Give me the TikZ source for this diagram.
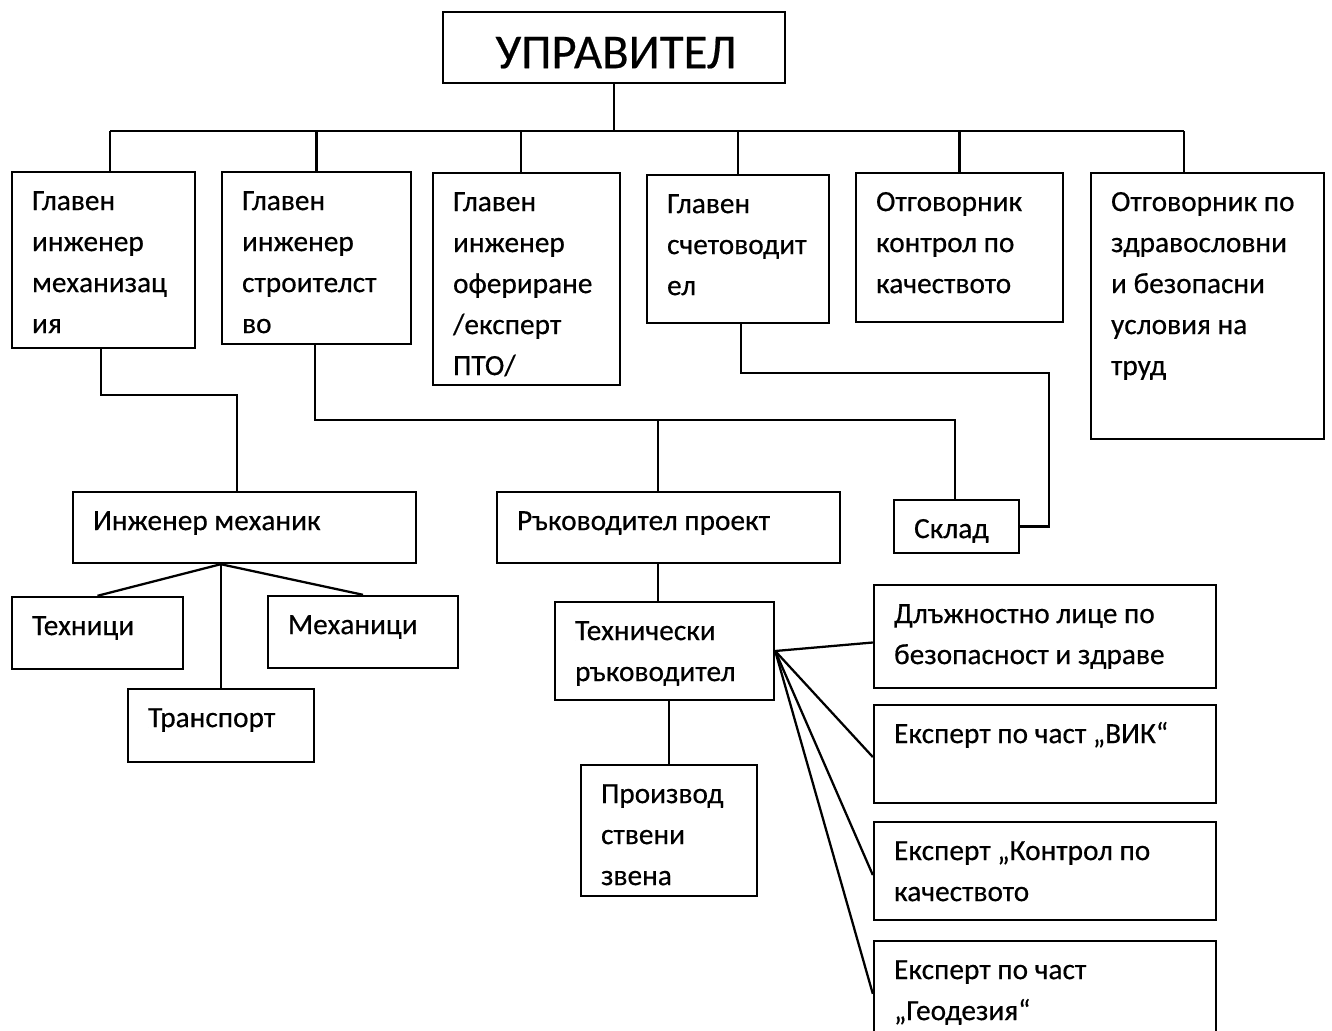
\documentclass[tikz,border=0pt]{standalone}
\usepackage{fontspec}
\setmainfont{Carlito}[FakeBold=0.4]
\usetikzlibrary{fit,calc}
\tikzset{
  box/.style={draw, line width=1.8pt, inner sep=0pt},
  lbl/.style={anchor=north west, inner sep=0pt, align=left, font=\fontsize{22}{30.75}\selectfont},
  conn/.style={line width=1.7pt, line join=miter}
}
\newcommand\obox[6]{%
  \node[box, fit={(#2,#3) (#4,#5)}] (#1) {};
  \node[lbl] (#1t) at ($(#1.north west)+(21,11)$) {\rule{0pt}{21pt}#6};
}
\begin{document}
\begin{tikzpicture}[x=0.75pt,y=-0.75pt]
\useasboundingbox (0,0) rectangle (1332,1031);
\fill[white] (0,0) rectangle (1332,1031);
\clip (0,0) rectangle (1332,1031);

% manager
\node[box, fit={(443,12) (785,83)}] (mgr) {};
\node[anchor=base, inner sep=0pt, font=\fontsize{36.5}{40}\selectfont] (mgrt) at ($(mgr.south)+(2,-16)$) {УПРАВИТЕЛ};

% first level
\obox{b1}{12}{172}{195}{348}{Главен\\инженер\\механизац\\ия}
\obox{b2}{222}{172}{411}{344}{Главен\\инженер\\строителст\\во}
\obox{b3}{433}{173}{620}{385}{Главен\\инженер\\офериране\\/експерт\\ПТО/}
\obox{b4}{647}{175}{829}{323}{Главен\\счетоводит\\ел}
\obox{b5}{856}{173}{1063}{322}{Отговорник\\контрол по\\качеството}
\obox{b6}{1091}{173}{1324}{439}{Отговорник по\\здравословни\\и безопасни\\условия на\\труд}

% second level
\obox{im}{73}{492}{416}{563}{Инженер механик}
\obox{rp}{497}{492}{840}{563}{Ръководител проект}
\obox{sk}{894}{500}{1019}{553}{Склад}

% third level
\obox{th}{12}{597}{183}{669}{Техници}
\obox{mh}{268}{596}{458}{668}{Механици}
\obox{trn}{128}{689}{314}{762}{Транспорт}
\obox{tr}{555}{602}{774}{700}{Технически\\ръководител}
\obox{pz}{581}{765}{757}{896}{Производ\\ствени\\звена}

% right column
\obox{d1}{874}{585}{1216}{688}{Длъжностно лице по\\безопасност и здраве}
\obox{e2}{874}{705}{1216}{803}{Експерт по част „ВИК“}
\obox{e3}{874}{822}{1216}{920}{Експерт „Контрол по\\качеството}
\obox{e4}{874}{941}{1216}{1075}{Експерт по част\\„Геодезия“}

% bus
\coordinate (busL) at (110,131);
\coordinate (busR) at (1184,131);
\coordinate (bus3) at (521,131);
\draw[conn] (mgr.south) -- (mgr.south |- busL);
\draw[conn] (busL) -- (busR);
\draw[conn] (b1.north -| busL) -- (busL);
\draw[conn] (b2.north) -- (b2.north |- busL);
\draw[conn] (b3.north -| bus3) -- (bus3);
\draw[conn] (b4.north) -- (b4.north |- busL);
\draw[conn] (b5.north) -- (b5.north |- busL);
\draw[conn] (b6.north -| busR) -- (busR);

% elbow connectors
\coordinate (k1) at (101,395);
\coordinate (k2) at (237,395);
\draw[conn] (b1.south -| k1) -- (k1) -- (k2) -- (im.north -| k2);

\coordinate (k3) at (315,420);
\coordinate (k4) at (955,420);
\coordinate (k5) at (658,420);
\draw[conn] (b2.south -| k3) -- (k3) -- (k4) -- (sk.north -| k4);
\draw[conn] (k5) -- (rp.north -| k5);

\coordinate (k6) at (741,373);
\coordinate (k7) at (1049,373);
\draw[conn] (b4.south -| k6) -- (k6) -- (k7) -- (k7 |- sk.east) -- (sk.east);

% mechanic fan
\coordinate (f1) at ($(im.south west)+(149,0)$);
\draw[conn] (f1) -- (th.north);
\draw[conn] (f1) -- (trn.north -| f1);
\draw[conn] (f1) -- (mh.north);

% project manager chain
\draw[conn] (rp.south -| k5) -- (tr.north -| k5);
\draw[conn] (pz.north) -- (pz.north |- tr.south);

% technical manager fan
\draw[conn] (tr.east) -- ($(d1.west)+(0,6)$);
\draw[conn] (tr.east) -- ($(e2.west)+(0,3)$);
\draw[conn] (tr.east) -- ($(e3.west)+(0,4)$);
\draw[conn] (tr.east) -- ($(e4.north west)+(0,54)$);
\end{tikzpicture}
\end{document}
